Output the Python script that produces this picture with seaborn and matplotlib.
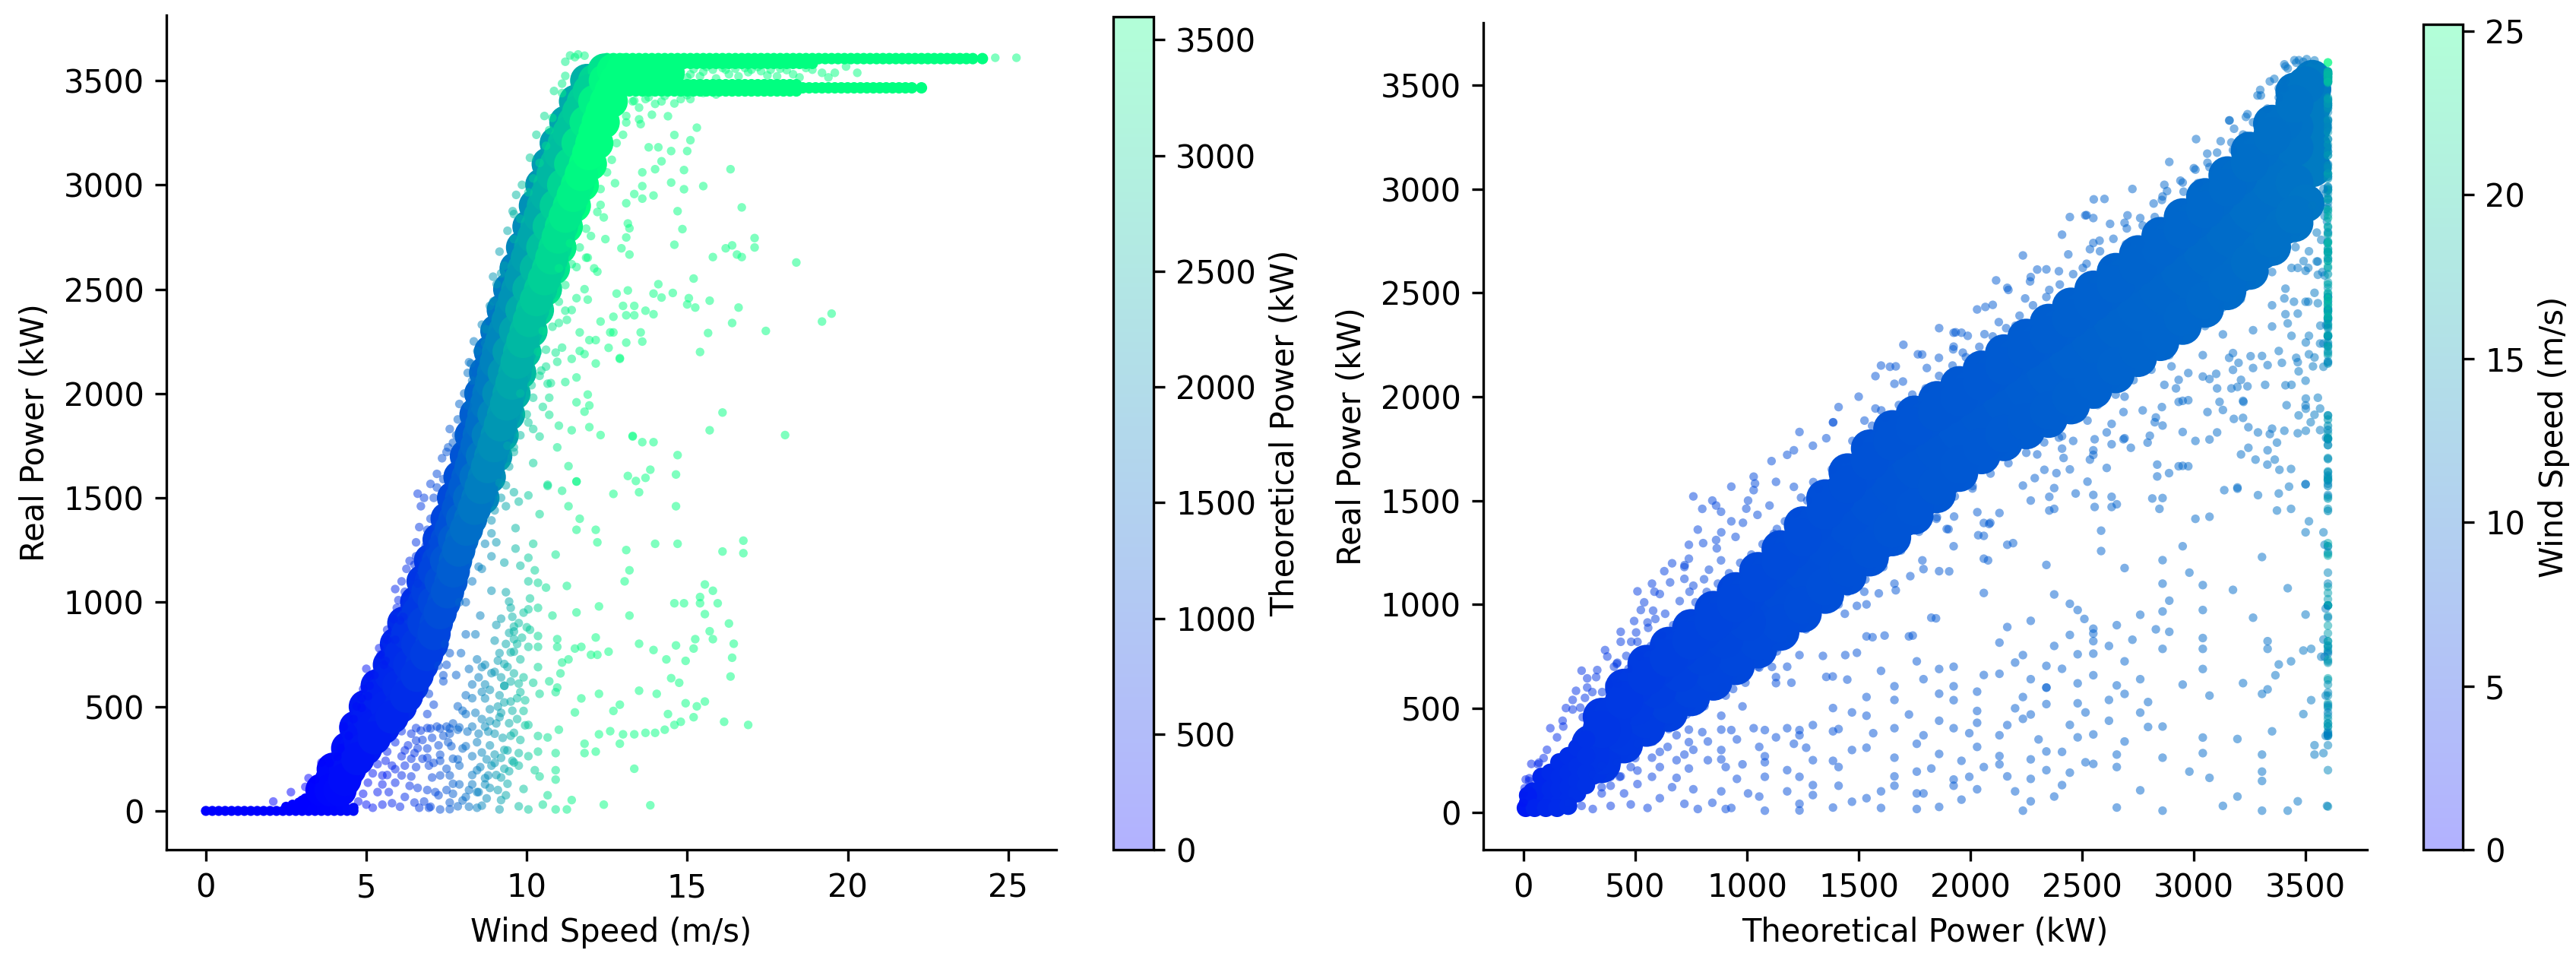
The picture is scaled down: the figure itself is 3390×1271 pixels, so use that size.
import matplotlib
matplotlib.use("Agg")
import matplotlib.pyplot as plt
import pandas as pd
import seaborn as sns
from matplotlib.cm import ScalarMappable
from matplotlib.colors import Normalize

# Readings. The dense core is a coarse set of rows drawn with fat markers.
rated_power = 3600

# scattered turbine records, shared by both panels
sparse_wind = [
    9.67,9.56,9.8,9.3,9.06,8.96,8.7,8.46,8.26,8.3,
    7.85,8.16,7.7,7.36,7.2,7.0,10.8,11.2,11.5,11.8,
    11.1,10.6,10.4,10.2,11.1,10.7,10.05,9.6,9.2,8.75,
    8.7,8.16,7.9,7.55,
    6.7,6.55,6.35,6.1,5.9,5.95,5.65,5.45,5.0,4.9,
    4.7,4.3,3.6,3.2,2.65,2.1,7.0,6.9,6.5,6.05,
    5.6,5.1,4.85,
    12.3,12.4,12.0,12.45,11.85,11.55,11.9,12.2,11.55,11.9,
    11.2,11.25,11.0,11.65,12.3,12.6,11.95,12.15,11.65,10.9,
    10.95,11.4,11.8,12.55,12.9,12.15,10.6,10.4,10.65,11.2,
    11.55,11.9,10.2,10.7,11.55,11.95,10.5,10.7,11.8,11.0,
    11.4,11.95,12.3,10.4,13.3,10.95,11.3,10.2,9.6,10.05,
    10.65,11.55,
    9.15,9.6,10.05,10.65,11.1,11.55,12.7,13.5,14.65,9.35,
    9.75,10.4,11.3,11.65,8.9,9.65,11.55,12.15,12.2,9.05,
    10.2,14.0,14.7,13.1,16.1,16.75,16.75,9.65,10.9,8.9,
    10.05,9.3,9.8,8.6,10.25,13.2,10.35,13.05,10.05,10.6,
    11.25,8.9,9.35,15.55,15.8,15.4,14.6,14.9,15.4,15.95,
    9.45,10.1,12.25,9.5,10.05,10.35,11.55,15.55,13.2,10.8,
    8.55,9.2,9.05,9.6,16.3,15.7,10.1,9.45,8.1,8.4,
    10.35,12.15,15.25,15.8,10.95,9.0,9.6,10.05,10.35,10.95,
    11.5,11.7,13.5,16.45,13.95,14.65,15.2,7.95,7.6,9.15,
    9.6,12.0,12.2,12.55,16.4,14.35,14.95,8.45,9.8,11.1,
    11.3,9.3,10.35,7.25,8.6,11.05,9.0,9.6,7.8,10.2,
    10.7,14.5,16.35,7.4,14.75,8.3,8.7,9.3,10.95,9.8,
    10.4,10.9,12.25,13.5,14.05,11.7,6.95,9.15,8.1,8.7,
    9.5,15.55,7.85,7.1,14.95,12.9,15.3,12.7,11.5,9.9,
    14.4,8.85,8.1,9.15,6.9,16.15,16.9,15.2,14.8,14.6,
    14.3,14.0,13.7,13.35,13.0,12.6,12.25,12.9,11.8,11.0,
    10.65,10.35,10.05,9.6,9.05,8.7,8.3,6.1,6.55,6.9,
    7.2,7.5,7.7,7.85,5.9,6.3,6.55,6.9,7.25,7.55,
    8.0,8.45,8.85,9.3,9.75,10.35,10.9,5.65,6.1,6.5,
    6.9,7.3,7.85,8.3,8.75,9.2,9.6,10.05,11.8,12.15,
    5.35,5.8,6.2,6.55,6.95,7.5,7.9,8.45,8.9,9.3,
    9.75,10.25,10.9,13.35,5.2,5.65,6.4,8.3,8.7,9.05,
    10.4,10.9,5.05,5.5,5.9,6.35,7.9,8.3,8.7,9.9,
    9.35,4.9,5.35,6.2,7.25,7.7,8.1,8.45,4.75,5.2,
    5.8,6.8,6.95,6.65,7.3,7.85,8.45,9.15,9.2,9.75,
    10.05,10.5,10.65,10.9,11.25,11.4,12.4,13.85,
    # lower cluster
    8.2,8.5,8.7,8.9,9.1,9.2,9.4,9.5,9.7,9.35,
    9.6,9.55,9.75,9.9,10.0,9.85,9.3,9.5,9.75,9.9,
    8.3,8.6,8.85,9.1,9.3,9.55,9.7,9.95,8.0,8.4,
    8.6,8.85,9.2,9.45,9.7,9.95,8.15,8.5,8.8,9.0,
    9.25,9.5,9.8,8.1,8.6,9.0,9.4,9.55,9.0,9.45,
    8.55,8.8,9.2,9.4,8.85,9.1,8.5,8.75,8.2,8.0,
    7.6,7.7,7.5,7.6,7.3,7.05,7.1,7.3,7.7,7.65,
    6.75,7.05,7.4,7.6,6.4,6.7,7.0,7.3,7.6,7.9,
    6.2,6.4,6.6,6.75,5.6,5.9,6.1,6.6,6.9,7.15,
    5.5,5.7,6.05,6.5,7.6,8.2,8.6,7.0,5.5,5.0,
    # left of the band
    6.6,6.8,7.1,6.65,6.85,6.55,6.5,6.25,6.6,6.2,
    6.0,6.15,5.85,5.65,5.9,5.4,5.55,5.25,5.1,5.05,
    4.85,4.6,4.45,4.2,4.1,3.85,3.4,3.1,7.2,7.4,
    7.5,7.6,7.8,8.05,8.2,8.35,8.6,8.85,8.95,9.15,
    9.4,9.6,9.85,10.1,10.3,10.55,10.85,11.2,11.35,11.6,
    # right of the band
    7.45,7.5,7.4,7.9,8.1,8.3,8.5,8.7,8.9,9.0,
    9.2,9.35,9.45,9.6,9.8,10.0,10.15,10.45,10.6,10.8,
    11.0,11.2,11.4,11.65,11.85,12.2,12.3,12.5,12.65,12.8,
    13.0,13.1,13.3,13.5,13.8,14.2,14.6,15.0,9.4,9.8,
    10.2,10.5,11.0,11.4,11.8,12.1,10.35,10.75,11.1,11.35,
]
sparse_real = [
    2952,2874,2837,2613,2524,2442,2308,2204,2144,2062,
    1876,1943,1764,1690,1615,1567,3321,3522,3612,3619,
    3485,3187,3105,3031,3440,3262,2964,2740,2576,2308,
    2241,2099,1950,1742,
    1460,1287,1198,1100,1063,973,868,749,681,584,
    501,404,232,157,90,45,1400,1347,1123,913,
    719,644,494,
    2904,2844,2755,2740,2651,2606,2651,2584,2457,2450,
    2397,2353,2338,2293,2345,2293,2256,2256,2204,2196,
    2152,2166,2189,2219,2166,2144,2129,2085,2047,2055,
    2077,1995,1980,1980,1958,1943,1936,1898,1913,1846,
    1824,1839,1801,1794,1794,1742,1652,1667,1742,1861,
    1563,1578,
    1572,1527,1512,1557,1534,1579,1519,1527,1460,1460,
    1482,1422,1460,1400,1392,1355,1347,1347,1287,1287,
    1280,1280,1280,1250,1243,1295,1235,1257,1228,1220,
    1213,1190,1175,1160,1153,1153,1093,1100,1100,1070,
    1078,1055,1048,1085,1055,1025,995,995,995,995,
    1003,1018,980,973,966,973,951,943,936,936,
    936,921,891,883,898,861,868,853,846,846,
    838,831,823,823,823,816,823,786,786,786,
    778,786,801,801,771,793,778,756,756,756,
    763,748,748,763,734,726,719,726,726,711,
    726,704,689,696,689,659,666,659,651,614,
    621,636,644,621,614,606,606,599,591,569,
    561,569,561,576,561,539,561,554,554,539,
    524,524,501,509,516,509,501,479,472,479,
    464,487,464,449,464,427,412,449,427,412,
    389,374,374,367,367,382,367,322,322,389,
    352,359,412,374,419,404,404,382,397,397,
    404,404,419,389,329,314,337,299,314,329,
    299,329,314,292,277,284,277,284,262,277,
    254,269,247,262,247,254,232,262,277,284,
    224,217,217,210,217,202,217,195,217,202,
    217,195,195,202,180,172,165,172,157,172,
    165,150,135,127,135,120,127,127,127,105,
    75,82,90,67,75,82,67,90,45,15,
    37,45,15,15,7,22,15,7,52,22,
    7,30,75,7,7,52,30,27,
    # lower cluster
    680,640,700,660,720,640,690,760,800,800,
    860,930,900,950,880,830,600,620,610,640,
    540,570,580,500,520,480,540,530,480,470,
    440,430,470,420,440,410,380,370,380,370,
    350,360,340,310,280,270,290,240,230,190,
    210,170,160,130,110,100,90,60,100,50,
    40,130,100,170,170,160,230,240,250,310,
    340,350,360,370,370,385,395,395,395,400,
    290,250,300,250,240,200,170,110,100,90,
    170,90,20,40,8,20,25,20,30,30,
    # left of the band
    1520,1500,1500,1360,1270,1220,1180,1160,1090,1050,
    1010,930,920,820,820,780,700,650,600,550,
    540,440,360,300,260,230,150,115,1550,1590,
    1720,1830,1800,2000,2150,2250,2330,2420,2560,2680,
    2780,2860,3000,3130,3240,3330,3450,3590,3620,3625,
    # right of the band
    800,700,650,1000,1000,1100,1170,1280,1330,1440,
    1500,1560,1650,1720,1800,1900,2040,2110,2210,2320,
    2440,2520,2620,2700,2790,2870,2980,3060,3120,3200,
    3240,3330,3400,3370,3420,3400,3390,3430,1750,2000,
    1830,2300,2600,2400,2500,2600,2200,2050,2220,2720,
]
sparse_theo = [
    2600,2520,2690,2340,2165,2100,1925,1765,1640,1660,
    1385,1575,1295,1110,1030,930,3265,3410,3490,3540,
    3380,3175,3070,2950,3380,3220,2860,2550,2270,1960,
    1925,1575,1410,1210,
    800,740,665,575,510,525,435,375,260,235,
    190,120,35,10,0,0,930,885,720,555,
    420,285,220,
    3592,3596,3570,3598,3550,3500,3555,3585,3500,3555,
    3410,3420,3350,3515,3592,3600,3565,3580,3515,3305,
    3330,3465,3540,3600,3600,3580,3175,3070,3195,3410,
    3500,3555,2950,3220,3500,3565,3130,3220,3540,3350,
    3465,3565,3592,3070,3600,3330,3435,2950,2550,2860,
    3195,3500,
    2235,2550,2860,3195,3380,3500,3600,3600,3600,2375,
    2655,3070,3435,3515,2060,2585,3500,3580,3585,2165,
    2950,3600,3600,3600,3600,3600,3600,2585,3305,2060,
    2860,2340,2690,1860,2980,3600,3040,3600,2860,3175,
    3420,2060,2375,3600,3600,3600,3600,3600,3600,3600,
    2445,2890,3590,2480,2860,3040,3500,3600,3600,3265,
    1825,2270,2165,2550,3600,3600,2890,2445,1535,1725,
    3040,3580,3600,3600,3330,2130,2550,2860,3040,3330,
    3490,3525,3600,3600,3600,3600,3600,1440,1235,2235,
    2550,3570,3585,3600,3600,3600,3600,1760,2690,3380,
    3435,2340,3040,1055,1860,3365,2130,2550,1355,2950,
    3220,3600,3600,1130,3600,1660,1925,2340,3330,2690,
    3070,3305,3590,3600,3600,3525,905,2235,1535,1925,
    2480,3600,1385,980,3600,3600,3600,3600,3490,2760,
    3600,2030,1535,2235,885,3600,3600,3600,3600,3600,
    3600,3600,3600,3600,3600,3600,3590,3600,3540,3350,
    3195,3040,2860,2550,2165,1925,1660,575,740,885,
    1030,1180,1295,1385,510,645,740,885,1055,1210,
    1470,1760,2030,2340,2655,3040,3305,435,575,720,
    885,1080,1385,1660,1960,2270,2550,2860,3540,3580,
    350,480,610,740,905,1180,1410,1760,2060,2340,
    2655,2980,3305,3600,310,435,685,1660,1925,2165,
    3070,3305,275,390,510,665,1410,1660,1925,2760,
    2375,235,350,610,1055,1295,1535,1760,200,310,
    480,845,905,780,1080,1385,1760,2235,2270,2655,
    2860,3130,3195,3305,3420,3465,3596,3600,
    # lower cluster
    1600,1790,1925,2060,2200,2270,2410,2480,2620,2375,
    2550,2510,2655,2760,2830,2725,2340,2480,2655,2760,
    1660,1860,2030,2200,2340,2515,2620,2795,1470,1725,
    1860,2030,2270,2445,2620,2795,1565,1790,1995,2130,
    2305,2480,2690,1535,1860,2130,2410,2515,2130,2445,
    1825,1995,2270,2410,2030,2200,1790,1960,1600,1470,
    1235,1295,1180,1235,1080,955,980,1080,1295,1265,
    825,955,1130,1235,685,800,930,1080,1235,1410,
    610,685,760,825,420,510,575,760,885,1005,
    390,450,555,720,1235,1600,1860,930,390,260,
    # left of the band
    760,845,1005,780,865,740,720,630,760,610,
    540,590,495,435,510,365,405,325,285,275,
    220,175,150,105,90,65,25,5,1030,1130,
    1180,1235,1355,1500,1600,1700,1860,2030,2115,2235,
    2410,2550,2725,2890,3010,3160,3285,3410,3450,3505,
    # right of the band
    1155,1180,1130,1410,1535,1660,1790,1925,2060,2130,
    2270,2375,2445,2550,2690,2830,2920,3100,3175,3265,
    3350,3410,3465,3515,3550,3585,3592,3600,3600,3600,
    3600,3600,3600,3600,3600,3600,3600,3600,2410,2690,
    2950,3130,3350,3465,3540,3575,3040,3240,3380,3455,
]

# records above rated wind speed, theoretical power is flat at rated_power
rated_wind = [
    25.26,24.6,14.8,15.1,15.5,15.8,16.2,16.5,16.8,17.0,
    17.3,17.6,17.9,18.3,18.5,18.9,19.2,19.6,19.95,20.3,
    14.4,13.9,13.5,15.3,14.6,15.1,13.8,14.1,14.5,15.0,
    14.2,14.0,13.6,14.9,16.35,14.5,15.5,12.75,14.9,13.6,
    13.35,13.95,13.6,13.1,14.7,16.7,13.15,13.2,14.85,13.1,
    14.6,12.95,13.2,15.8,16.2,16.4,16.55,16.7,17.1,17.1,
    18.4,15.2,14.1,12.8,13.15,13.95,14.2,14.55,15.05,15.0,
    15.25,15.7,16.6,13.35,13.0,13.1,13.35,13.7,13.95,12.7,
    16.4,19.5,19.2,12.7,13.55,15.65,17.45,13.1,13.6,15.4,
    12.9,16.1,15.7,13.3,13.6,13.95,18.05,14.7,13.15,13.4,
    13.7,13.85,14.65,13.35,13.7,14.0,14.3,14.8,15.1,15.5,
    15.9,13.1,13.55,
    14.8,15.0,15.2,15.4,15.6,15.9,16.1,16.3,16.6,16.9,
    17.2,17.5,17.8,18.1,18.7,19.4,
]
rated_real = [
    3609,3609,3542,3530,3542,3552,3552,3557,3560,3552,
    3545,3552,3557,3530,3515,3552,3537,3537,3567,3537,
    3329,3336,3314,3274,3239,3214,3180,3180,3162,3162,
    3113,3075,3060,3071,3075,3011,2994,3008,2979,2994,
    2956,2949,2934,2912,2874,2892,2815,2792,2788,2748,
    2713,2696,2666,2654,2696,2710,2666,2654,2745,2700,
    2628,2551,2524,2479,2494,2479,2460,2482,2457,2427,
    2412,2445,2412,2420,2420,2375,2375,2397,2380,2368,
    2338,2383,2345,2293,2293,2290,2300,2244,2249,2199,
    2170,1909,1824,1797,1767,1767,1801,1705,1605,1581,
    1596,1635,1612,3403,3411,3388,3426,3411,3411,3440,
    3433,3299,3291,
    3565,3515,3555,3520,3565,3510,3560,3530,3520,3540,
    3565,3525,3520,3550,3560,3515,
]

# P = 0 run along the cut-in range and the wedge just above it
zero_wind = [
    0.0,0.2,0.4,0.6,0.8,1.0,1.2,1.4,1.6,1.8,
    2.0,2.2,2.4,2.6,2.8,3.0,3.2,3.4,3.6,3.8,
    4.0,4.2,4.4,4.6,2.5,2.7,2.9,3.0,3.1,3.2,
    3.3,3.4,3.5,3.6,3.8,4.0,4.2,4.4,4.6,3.0,
    3.3,3.7,
]
zero_real = [
    0,0,0,0,0,0,0,0,0,0,
    0,0,0,0,0,0,0,0,0,0,
    0,0,0,0,20,30,40,20,60,30,
    70,40,20,50,30,15,25,10,15,50,
    10,10,
]
zero_theo = [
    0,0,0,0,0,0,0,0,0,0,
    0,0,0,0,0,0,0,10,35,55,
    75,100,130,170,0,0,0,0,5,10,
    15,20,35,45,55,75,100,130,170,0,
    15,50,
]

# left panel, solid band: one row per power level, three points across the band
left_core_real = [
    100,200,300,400,500,600,700,800,900,1000,
    1100,1200,1300,1400,1500,1600,1700,1800,1900,2000,
    2100,2200,2300,2400,2500,2600,2700,2800,2900,3000,
    3100,3200,3300,3400,3500,3550,
]
left_core_wind_low = [
    3.62,4.22,4.67,4.92,5.22,5.59,5.97,6.19,6.42,6.82,
    7.02,7.25,7.52,7.77,7.97,8.17,8.37,8.52,8.67,8.82,
    8.97,9.12,9.32,9.52,9.72,9.92,10.12,10.32,10.52,10.72,
    10.92,11.17,11.47,11.77,12.12,12.42,
]
left_core_wind_mid = [
    3.9,4.35,4.82,5.22,5.64,6.01,6.35,6.6,6.8,7.12,
    7.33,7.5,7.75,8.0,8.22,8.42,8.62,8.8,8.98,9.13,
    9.3,9.45,9.65,9.85,10.07,10.3,10.5,10.7,10.92,11.15,
    11.37,11.6,11.85,12.12,12.45,12.7,
]
left_core_wind_high = [
    4.18,4.48,4.98,5.53,6.06,6.43,6.73,7.04,7.18,7.42,
    7.64,7.78,7.98,8.25,8.48,8.68,8.88,9.08,9.28,9.45,
    9.63,9.78,9.98,10.18,10.43,10.68,10.88,11.08,11.33,11.58,
    11.83,12.03,12.23,12.48,12.78,12.98,
]
left_core_theo_low = [
    50,130,250,340,425,510,595,680,765,850,
    935,1020,1105,1190,1275,1360,1445,1530,1615,1700,
    1785,1870,1955,2040,2125,2210,2295,2380,2465,2550,
    2635,2720,2805,2890,3000,3200,
]
left_core_theo_mid = [
    100,180,300,400,500,600,700,800,900,1000,
    1100,1200,1300,1400,1500,1600,1700,1800,1900,2000,
    2100,2200,2300,2400,2500,2600,2700,2800,2900,3000,
    3100,3200,3300,3400,3500,3550,
]
left_core_theo_high = [
    130,230,350,460,575,690,805,920,1035,1150,
    1265,1380,1495,1610,1725,1840,1955,2070,2185,2300,
    2415,2530,2645,2760,2875,2990,3105,3220,3335,3450,
    3565,3600,3600,3600,3600,3600,
]
# the rows in between, band edges only
left_edge_real = [
    150,250,350,450,550,650,750,850,950,1050,
    1150,1250,1350,1450,1550,1650,1750,1850,1950,2050,
    2150,2250,2350,2450,2550,2650,2750,2850,2950,3050,
    3150,3250,3350,3450,
]
left_edge_wind_low = [
    3.92,4.45,4.8,5.07,5.4,5.78,6.08,6.3,6.62,6.92,
    7.13,7.38,7.65,7.87,8.07,8.27,8.45,8.6,8.75,8.9,
    9.05,9.22,9.42,9.62,9.82,10.02,10.22,10.42,10.62,10.82,
    11.05,11.32,11.62,11.95,
]
left_edge_wind_high = [
    4.33,4.73,5.25,5.8,6.25,6.58,6.88,7.11,7.3,7.53,
    7.71,7.88,8.12,8.37,8.58,8.78,8.98,9.18,9.37,9.54,
    9.7,9.88,10.08,10.3,10.55,10.78,10.98,11.2,11.45,11.7,
    11.93,12.13,12.35,12.63,
]
left_edge_theo_low = [
    130,210,300,380,470,550,640,720,810,890,
    980,1060,1150,1230,1320,1400,1490,1570,1660,1740,
    1830,1910,2000,2080,2170,2250,2340,2420,2510,2590,
    2680,2760,2850,2950,
]
left_edge_theo_high = [
    170,290,400,520,630,750,860,980,1090,1210,
    1320,1440,1550,1670,1780,1900,2010,2130,2240,2360,
    2470,2590,2700,2820,2930,3050,3160,3280,3390,3510,
    3600,3600,3600,3600,
]
# outer rim of the left band
left_rim_real_low = [
    200,300,400,500,600,700,800,900,1000,1100,
    1200,1300,1400,1500,1600,1700,1800,1900,2000,2100,
    2200,2300,2400,2500,2600,2700,2800,2900,3000,3100,
    3200,3300,3400,3500,
]
left_rim_wind_low = [
    3.97,4.42,4.67,4.97,5.34,5.72,5.94,6.17,6.57,6.77,
    7.0,7.27,7.52,7.72,7.92,8.12,8.27,8.42,8.57,8.72,
    8.87,9.07,9.27,9.47,9.67,9.87,10.07,10.27,10.47,10.67,
    10.92,11.22,11.52,11.87,
]
left_rim_theo_low = [
    140,210,280,350,420,490,560,630,700,770,
    840,910,980,1050,1120,1190,1260,1330,1400,1470,
    1540,1610,1680,1750,1820,1890,1960,2030,2100,2170,
    2240,2310,2380,2500,
]
left_rim_real_high = [
    1500,1600,1700,1800,1900,2000,2100,2200,2300,2400,
    2500,2600,2700,2800,2900,3000,3100,3200,3300,3400,
]
left_rim_wind_high = [
    8.63,8.83,9.03,9.23,9.43,9.6,9.78,9.93,10.13,10.33,
    10.58,10.83,11.03,11.23,11.48,11.73,11.98,12.18,12.38,12.63,
]
left_rim_theo_high = [
    1875,2000,2125,2250,2375,2500,2625,2750,2875,3000,
    3125,3250,3375,3500,3600,3600,3600,3600,3600,3600,
]
plateau_wind = [13.2,13.5,13.8,14.1,14.4]
plateau_real = [3535,3535,3535,3535,3535]

# the two horizontal runs at full output
top_run_wind = [
    12.5,12.7,12.9,13.1,13.3,13.5,13.7,13.9,14.1,14.3,
    14.5,14.7,14.9,15.1,15.3,15.5,15.7,15.9,16.1,16.3,
    16.5,16.7,16.9,17.1,17.3,17.5,17.7,17.9,18.1,18.3,
    18.5,18.7,18.9,19.1,19.3,19.5,19.7,19.9,20.1,20.3,
    20.5,20.7,20.9,21.1,21.3,21.5,21.7,21.9,22.1,22.3,
    22.5,22.7,22.9,23.1,23.3,23.5,23.7,23.9,24.2,
]
low_run_wind = [
    13.0,13.2,13.4,13.6,13.8,14.0,14.2,14.4,14.6,14.8,
    15.0,15.2,15.4,15.6,15.8,16.0,16.2,16.4,16.6,16.8,
    17.0,17.2,17.4,17.6,17.8,18.0,18.2,18.4,18.6,18.8,
    19.0,19.2,19.4,19.6,19.8,20.0,20.2,20.4,20.6,20.8,
    21.0,21.2,21.4,21.6,21.8,22.0,22.3,
]
top_run_real = 3605
top_run_under_real = 3582
low_run_real = 3465
low_run_over_real = 3480
low_run_under_real = 3450

# right panel, solid band: one column per theoretical power level
right_core_theo = [
    300,400,500,600,700,800,900,1000,1100,1200,
    1300,1400,1500,1600,1700,1800,1900,2000,2100,2200,
    2300,2400,2500,2600,2700,2800,2900,3000,3100,3200,
    3300,3400,3500,
]
right_core_real_low = [
    221,321,411,481,556,631,706,781,866,951,
    1041,1131,1221,1311,1416,1521,1621,1726,1791,1851,
    1906,1961,2036,2111,2186,2266,2341,2421,2506,2591,
    2701,2821,2931,
]
right_core_real_mid = [
    275,395,510,590,670,750,832,915,1010,1105,
    1212,1325,1427,1530,1617,1705,1790,1880,1950,2020,
    2082,2147,2225,2305,2385,2467,2550,2635,2730,2825,
    2945,3070,3215,
]
right_core_real_high = [
    329,469,609,699,784,869,959,1049,1154,1259,
    1384,1519,1634,1749,1819,1889,1959,2034,2109,2189,
    2259,2334,2414,2499,2584,2669,2759,2849,2954,3059,
    3189,3319,3499,
]
right_core_wind = [
    5.2,5.55,5.85,6.15,6.45,6.7,6.9,7.15,7.35,7.55,
    7.75,7.85,8.05,8.2,8.35,8.5,8.65,8.8,8.95,9.1,
    9.25,9.4,9.55,9.7,9.85,9.95,10.1,10.3,10.45,10.65,
    11.0,11.2,11.6,
]
right_edge_theo = [
    350,450,550,650,750,850,950,1050,1150,1250,
    1350,1450,1550,1650,1750,1850,1950,2050,2150,2250,
    2350,2450,2550,2650,2750,2850,2950,3050,3150,3250,
    3350,3450,
]
right_edge_real_low = [
    271,366,446,518,593,668,743,823,908,996,
    1086,1176,1266,1363,1468,1571,1673,1758,1821,1878,
    1933,1998,2073,2148,2226,2303,2381,2463,2548,2646,
    2761,2876,
]
right_edge_real_high = [
    399,539,654,741,826,914,1004,1101,1206,1321,
    1451,1576,1691,1784,1854,1924,1996,2071,2149,2224,
    2296,2374,2456,2541,2626,2714,2804,2901,3006,3124,
    3254,3409,
]
right_edge_wind = [
    5.35,5.7,6.0,6.3,6.6,6.8,7.05,7.25,7.45,7.65,
    7.8,7.95,8.15,8.3,8.45,8.6,8.7,8.85,9.05,9.15,
    9.3,9.5,9.6,9.75,9.9,10.0,10.2,10.4,10.55,10.85,
    11.1,11.4,
]
# outer rim above and below the right band
right_rim_real_high = [
    459,599,714,801,886,974,1064,1161,1266,1381,
    1511,1636,1751,1844,1914,1984,2056,2131,2209,2284,
    2356,2434,2516,2601,2686,2774,2864,2961,3066,3184,
    3314,3469,
]
right_rim_real_low = [
    231,326,406,478,553,628,703,783,868,956,
    1046,1136,1226,1323,1428,1531,1633,1718,1781,1838,
    1893,1958,2033,2108,2186,2263,2341,2423,2508,2606,
    2721,2836,
]
# top end of the band, near rated power
right_end_theo = [3530,3530,3530,3530,3530,3530,3450,3450,3450]
right_end_real = [3100,3200,3300,3400,3480,3530,3030,3200,3300]
right_end_wind = [12.2,12.2,12.2,12.2,12.2,12.2,11.4,11.4,11.4]
# foot of the band near the origin
right_foot_theo = [
    40,40,80,80,80,120,120,120,160,160,
    160,160,200,200,200,200,240,240,240,240,
    280,280,280,280,20,10,20,50,100,150,
    200,
]
right_foot_real = [
    44,100,44,110,170,44,110,190,44,110,
    170,240,60,120,190,270,90,150,220,310,
    130,190,270,350,44,20,80,20,20,20,
    30,
]
right_foot_wind = [
    3.5,3.5,3.8,3.8,3.8,4.2,4.2,4.2,4.4,4.4,
    4.4,4.4,4.6,4.6,4.6,4.6,4.8,4.8,4.8,4.8,
    5.0,5.0,5.0,5.0,3.0,2.5,3.0,3.5,4.0,4.3,
    4.6,
]
# fringe of the right band
fringe_theo = [
    862,884,997,1047,982,1101,1210,1036,862,804,
    949,721,656,586,830,884,580,634,504,558,
    699,808,460,384,330,308,254,178,69,26,
    743,482,417,352,265,1134,1242,1297,
    1112,1199,1340,1492,1562,1616,1742,1384,1449,1846,
    1666,1525,1438,1492,1264,1199,1134,1047,993,938,
    873,1590,1905,2079,2191,2089,2035,1894,1927,1731,
    1785,
    1386,1526,1601,1666,1698,1784,1805,1859,1923,1934,
    1988,2063,2127,2067,2170,2267,2299,2245,2353,2396,
    2438,2445,2514,2552,2625,2703,2535,2578,2610,2696,
    2771,2825,2857,2868,2954,3007,3061,3104,3168,3158,
    3233,3297,3340,3329,3405,3458,3405,3233,3018,2760,
    2503,2202,1966,1730,1472,
    3555,3491,3512,3437,3405,3448,3512,3566,3437,3501,
    3458,3533,3394,3254,3265,3158,3200,3319,3437,3469,
    3040,2975,2900,2932,2868,3104,3168,3211,3115,3222,
    3415,3501,3501,3469,3523,2975,2932,2857,2771,3061,
    3179,2825,2685,2632,2524,3244,3287,3340,3405,3501,
    3104,2803,2685,2610,2556,3007,2793,2632,2718,3372,
    3244,3211,3276,3362,3329,3383,2535,2610,2836,2889,
    2836,2932,2975,2524,2471,2353,2385,3136,3287,3426,
    3372,3007,2353,2556,2632,2632,2814,2846,
    2084,2031,1902,1848,2009,2288,2331,2417,2460,2396,
    2299,
    420,470,520,570,620,670,720,770,820,870,
    920,970,1020,1070,1120,1170,1220,1270,1320,1380,
    1440,1500,1560,1620,1680,1740,1800,1860,1920,1980,
    2040,2100,2160,2220,2280,2340,2400,2460,2520,2580,
    2640,2700,2760,2820,2880,2940,3000,3060,3120,3180,
    3240,3300,3360,3420,3470,
    350,430,500,580,650,730,810,890,970,1050,
    1130,1210,1290,1370,1450,1530,1610,1690,1770,1850,
    1930,2010,2090,2170,2250,2330,2410,2490,2570,2650,
    2730,2810,2890,2970,3050,3130,3210,3290,3370,3450,
    3530,3580,
]
fringe_real = [
    1476,1446,1461,1431,1393,1476,1566,1582,1310,1295,
    1325,1189,1106,1061,1167,1212,970,955,865,887,
    1016,1121,752,616,684,578,503,412,238,163,
    1061,820,714,578,457,1363,1514,1589,
    699,623,752,767,842,850,850,653,638,933,
    1068,1061,955,993,880,835,774,729,623,593,
    563,1053,1159,1212,1295,1393,1333,1363,1423,1136,
    1212,
    1877,1885,1934,2146,2073,2203,2138,2187,2228,2310,
    2293,2301,2359,2432,2514,2555,2612,2473,2514,2604,
    2685,2865,2873,2950,2832,2873,2710,2751,2653,2734,
    2824,2865,2947,3020,2987,3093,3126,3175,3224,3330,
    3347,3477,3518,3387,3600,3608,3485,3257,3028,2734,
    2620,2342,2212,1983,1787,
    2587,2653,2620,2620,2473,2457,2457,2342,2293,2261,
    2187,2146,2163,2195,2138,2187,2163,2057,2057,2122,
    2097,2114,2146,2081,2057,2040,2040,2081,1975,1975,
    1959,1991,1942,1910,1877,1983,1975,1950,1934,1926,
    1893,1877,1926,1869,1885,1853,1828,1820,1836,1836,
    1828,1812,1795,1828,1795,1787,1779,1771,1754,1779,
    1754,1722,1697,1697,1673,1648,1697,1657,1673,1632,
    1616,1665,1665,1591,1534,1518,1632,1550,1526,1567,
    1452,1412,1452,1469,1518,1469,1510,1460,
    1387,1444,1362,1412,1558,1608,1648,1705,1787,1803,
    1722,
    620,690,750,800,850,900,950,1010,1060,1100,
    1150,1200,1240,1290,1340,1400,1440,1500,1560,1650,
    1700,1780,1860,1900,1960,2010,2040,2100,2150,2190,
    2240,2290,2330,2390,2440,2480,2540,2590,2640,2700,
    2760,2810,2860,2930,2990,3040,3100,3170,3230,3290,
    3360,3450,3530,3580,3620,
    120,170,260,340,400,470,510,600,640,700,
    790,840,920,990,1060,1120,1180,1260,1350,1420,
    1520,1570,1630,1680,1730,1780,1810,1900,1960,2010,
    2080,2130,2200,2280,2340,2430,2470,2590,2680,2760,
    2920,3000,
]
fringe_wind = [
    6.85,6.9,7.15,7.25,7.1,7.35,7.55,7.2,6.85,6.7,
    7.05,6.5,6.35,6.1,6.75,6.9,6.1,6.25,5.85,6.05,
    6.45,6.7,5.75,5.5,5.25,5.2,5.0,4.6,3.95,3.4,
    6.55,5.8,5.6,5.35,5.0,7.4,7.6,7.7,
    7.4,7.55,7.8,8.05,8.15,8.25,8.4,7.85,7.95,8.65,
    8.3,8.1,7.95,8.05,7.65,7.55,7.4,7.25,7.15,7.0,
    6.85,8.2,8.7,8.95,9.1,8.95,8.9,8.7,8.75,8.4,
    8.5,
    7.85,8.1,8.2,8.3,8.35,8.5,8.5,8.6,8.7,8.7,
    8.8,8.9,9.0,8.9,9.05,9.2,9.25,9.15,9.35,9.4,
    9.45,9.45,9.55,9.6,9.7,9.8,9.6,9.65,9.7,9.8,
    9.9,10.0,10.05,10.05,10.2,10.3,10.4,10.45,10.55,10.55,
    10.75,10.9,11.0,11.0,11.2,11.4,11.2,10.75,10.3,9.9,
    9.55,9.1,8.75,8.4,8.0,
    11.9,11.5,11.7,11.3,11.2,11.35,11.7,12.0,11.3,11.6,
    11.4,11.8,11.15,10.8,10.8,10.55,10.7,11.0,11.3,11.45,
    10.35,10.25,10.1,10.15,10.05,10.45,10.55,10.7,10.45,10.7,
    11.2,11.6,11.6,11.45,11.75,10.25,10.15,10.05,9.9,10.4,
    10.6,10.0,9.8,9.7,9.6,10.8,10.9,11.0,11.2,11.6,
    10.45,9.95,9.8,9.7,9.6,10.3,9.95,9.7,9.85,11.1,
    10.8,10.7,10.85,11.05,11.0,11.1,9.6,9.7,10.0,10.1,
    10.0,10.15,10.25,9.6,9.5,9.35,9.4,10.5,10.9,11.3,
    11.1,10.3,9.35,9.6,9.7,9.7,9.95,10.05,
    8.95,8.85,8.65,8.6,8.8,9.25,9.3,9.45,9.5,9.4,
    9.25,
    5.6,5.8,5.9,6.05,6.2,6.35,6.5,6.6,6.75,6.85,
    7.0,7.1,7.2,7.3,7.35,7.5,7.55,7.7,7.75,7.85,
    7.95,8.05,8.15,8.25,8.3,8.4,8.5,8.6,8.7,8.8,
    8.85,8.95,9.05,9.15,9.25,9.3,9.4,9.5,9.6,9.65,
    9.75,9.8,9.9,10.0,10.1,10.2,10.3,10.4,10.5,10.6,
    10.75,10.9,11.05,11.25,11.4,
    5.35,5.7,5.85,6.1,6.3,6.55,6.7,6.9,7.1,7.25,
    7.4,7.55,7.7,7.85,7.95,8.1,8.25,8.35,8.45,8.6,
    8.7,8.8,8.95,9.05,9.15,9.3,9.4,9.55,9.65,9.75,
    9.85,9.95,10.1,10.25,10.4,10.5,10.7,10.9,11.1,11.4,
    11.8,12.2,
]
# column of points at rated power
column_real = [
    3100,3050,3000,2950,2900,2860,2820,2780,2740,2690,
    2620,2590,2540,2500,2470,2440,2410,2380,2350,2330,
    2290,2260,2240,2210,2160,1910,1890,1860,1840,1800,
    1700,1640,1620,1600,1570,1510,1450,
]
column_wind = [
    14.0,14.5,15.0,16.0,17.0,18.0,17.5,16.5,18.5,17.0,
    16.0,15.5,17.0,18.0,19.0,18.5,18.0,17.0,15.0,14.0,
    15.5,14.5,16.5,16.0,14.0,14.0,15.0,14.5,13.5,14.0,
    14.0,14.5,14.0,15.0,13.5,15.5,14.0,
]

POINT = 7.5    # scattered dots
RUN = 13       # flat runs
FOOT = 33      # foot of right band
CORE_L = 111   # left band rows
CORE_R = 144   # right band rows
FILL_R = 467   # middle of right band

TICK_SIZE = 10
plt.rcParams["font.family"] = "DejaVu Sans"
plt.rcParams["font.size"] = TICK_SIZE

fig = plt.figure(figsize=(11.3, 1271 / 300), dpi=300)
W, H = 3390, 1271


def box(left, top, right, bottom):
    return [left / W, 1 - bottom / H, (right - left) / W, (bottom - top) / H]


ax_l = fig.add_axes(box(219, 20, 1390, 1118))
ax_r = fig.add_axes(box(1952, 30, 3115, 1118))
cax_l = fig.add_axes(box(1465, 22, 1518, 1118))
cax_r = fig.add_axes(box(3189, 32, 3241, 1118))


def dots(ax, x, y, c, vmax, size, alpha):
    frame = pd.DataFrame({"x": x, "y": y, "c": c})
    sns.scatterplot(data=frame, x="x", y="y", hue="c", palette="winter", hue_norm=(0, vmax),
                    s=size, alpha=alpha, linewidth=0, legend=False, ax=ax)


def at_rated(values):
    return [rated_power] * len(values)


# left panel
PMAX = 3600
dots(ax_l, zero_wind, zero_real, zero_theo, PMAX, 10, 1)
dots(ax_l, left_rim_wind_low, left_rim_real_low, left_rim_theo_low, PMAX, CORE_L, 1)
dots(ax_l, left_rim_wind_high, left_rim_real_high, left_rim_theo_high, PMAX, CORE_L, 1)
dots(ax_l, top_run_wind, [top_run_real] * len(top_run_wind), at_rated(top_run_wind), PMAX, RUN, 1)
dots(ax_l, top_run_wind[:33], [top_run_under_real] * 33, at_rated(top_run_wind[:33]), PMAX, RUN, 1)
dots(ax_l, low_run_wind, [low_run_real] * len(low_run_wind), at_rated(low_run_wind), PMAX, RUN, 1)
dots(ax_l, low_run_wind[:28], [low_run_over_real] * 28, at_rated(low_run_wind[:28]), PMAX, RUN, 1)
dots(ax_l, low_run_wind[:28], [low_run_under_real] * 28, at_rated(low_run_wind[:28]), PMAX, RUN, 1)
dots(ax_l, plateau_wind, plateau_real, at_rated(plateau_wind), PMAX, CORE_L, 1)
dots(ax_l, left_core_wind_low, left_core_real, left_core_theo_low, PMAX, CORE_L, 1)
dots(ax_l, left_edge_wind_low, left_edge_real, left_edge_theo_low, PMAX, CORE_L, 1)
dots(ax_l, left_core_wind_mid, left_core_real, left_core_theo_mid, PMAX, CORE_L, 1)
dots(ax_l, left_core_wind_high, left_core_real, left_core_theo_high, PMAX, CORE_L, 1)
dots(ax_l, left_edge_wind_high, left_edge_real, left_edge_theo_high, PMAX, CORE_L, 1)
dots(ax_l, sparse_wind, sparse_real, sparse_theo, PMAX, POINT, 0.5)
dots(ax_l, rated_wind, rated_real, at_rated(rated_wind), PMAX, POINT, 0.5)

ax_l.set_xlim(-1.23, 26.5)
ax_l.set_ylim(-186, 3813)
ax_l.set_xlabel("Wind Speed (m/s)")
ax_l.set_ylabel("Real Power (kW)")

# right panel
VMAX = 25.2
dots(ax_r, right_edge_theo, right_rim_real_high, right_edge_wind, VMAX, CORE_R, 1)
dots(ax_r, right_edge_theo, right_rim_real_low, right_edge_wind, VMAX, CORE_R, 1)
dots(ax_r, right_core_theo[7:-1], right_core_real_mid[7:-1], right_core_wind[7:-1], VMAX, FILL_R, 1)
dots(ax_r, right_end_theo, right_end_real, right_end_wind, VMAX, CORE_R, 1)
dots(ax_r, right_core_theo, right_core_real_low, right_core_wind, VMAX, CORE_R, 1)
dots(ax_r, right_edge_theo, right_edge_real_low, right_edge_wind, VMAX, CORE_R, 1)
dots(ax_r, right_core_theo[:8], right_core_real_mid[:8], right_core_wind[:8], VMAX, CORE_R, 1)
dots(ax_r, right_core_theo, right_core_real_high, right_core_wind, VMAX, CORE_R, 1)
dots(ax_r, right_edge_theo, right_edge_real_high, right_edge_wind, VMAX, CORE_R, 1)
dots(ax_r, right_foot_theo, right_foot_real, right_foot_wind, VMAX, FOOT, 1)
dots(ax_r, sparse_theo, sparse_real, sparse_wind, VMAX, POINT, 0.5)
dots(ax_r, at_rated(rated_wind), rated_real, rated_wind, VMAX, POINT, 0.5)
dots(ax_r, at_rated(column_real), column_real, column_wind, VMAX, POINT, 0.6)
dots(ax_r, fringe_theo, fringe_real, fringe_wind, VMAX, POINT, 0.5)

ax_r.set_xlim(-180, 3775)
ax_r.set_ylim(-181, 3800)
ax_r.set_xlabel("Theoretical Power (kW)")
ax_r.set_ylabel("Real Power (kW)")

for ax in (ax_l, ax_r):
    ax.set_yticks([0, 500, 1000, 1500, 2000, 2500, 3000, 3500])
    sns.despine(ax=ax)
ax_l.set_xticks([0, 5, 10, 15, 20, 25])
ax_r.set_xticks([0, 500, 1000, 1500, 2000, 2500, 3000, 3500])

# colour bars
bar_l = fig.colorbar(ScalarMappable(Normalize(0, PMAX), "winter"), cax=cax_l, alpha=0.3)
bar_l.set_ticks([0, 500, 1000, 1500, 2000, 2500, 3000, 3500])
bar_l.set_label("Theoretical Power (kW)")
bar_r = fig.colorbar(ScalarMappable(Normalize(0, VMAX), "winter"), cax=cax_r, alpha=0.3)
bar_r.set_ticks([0, 5, 10, 15, 20, 25])
bar_r.set_label("Wind Speed (m/s)")

fig.savefig("out.png", dpi=300)
